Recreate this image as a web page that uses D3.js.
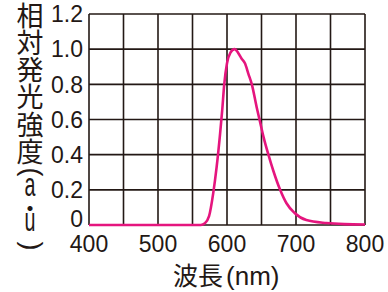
<!DOCTYPE html>
<html>
<head>
<meta charset="utf-8">
<script src="https://d3js.org/d3.v7.min.js"></script>
<style>
  body { margin: 0; background: #fff; }
  svg { display: block; }
  .num { font-family: "Liberation Sans", Arial, sans-serif; font-size: 23px; fill: #231815; }
  .jp { font-family: "Noto Sans CJK JP", sans-serif; fill: #231815; }
</style>
</head>
<body>
<script>
// 波長(nm)と相対発光強度
var wavelength = [400, 562, 568, 574, 580, 585, 590, 593, 596, 600, 605, 611, 616, 621, 626, 631, 636, 643, 648, 653, 660, 667, 677, 686, 698, 715, 744, 770, 800];
var intensity  = [0, 0, 0.01, 0.05, 0.18, 0.33, 0.52, 0.65, 0.80, 0.92, 0.98, 1.0, 0.98, 0.947, 0.92, 0.86, 0.80, 0.67, 0.585, 0.5, 0.40, 0.31, 0.20, 0.125, 0.068, 0.028, 0.011, 0.005, 0.003];
var xTicks = [400, 500, 600, 700, 800];
var xGrid  = [400, 450, 500, 550, 600, 650, 700, 750, 800];
var yTicks = [0, 0.2, 0.4, 0.6, 0.8, 1.0, 1.2];
var yTitle = ["相", "対", "発", "光", "強", "度", "(", "a", "・", "u", ")"];

var width = 388, height = 292;
var svg = d3.select("body").append("svg").attr("width", width).attr("height", height);

var x = d3.scaleLinear().domain([400, 800]).range([89, 365]);
var y = d3.scaleLinear().domain([0, 1.2]).range([225, 14]);

// グリッド
var grid = svg.append("g").attr("stroke", "#231815").attr("stroke-width", 1.6);
grid.selectAll("line.v").data(xGrid).enter().append("line")
  .attr("x1", function(d){ return x(d); }).attr("x2", function(d){ return x(d); })
  .attr("y1", y(0)).attr("y2", y(1.2));
grid.selectAll("line.h").data(yTicks).enter().append("line")
  .attr("y1", function(d){ return y(d); }).attr("y2", function(d){ return y(d); })
  .attr("x1", x(400)).attr("x2", x(800));

// 目盛ラベル
svg.selectAll("text.yt").data(yTicks).enter().append("text")
  .attr("class", "num")
  .attr("text-anchor", "end")
  .attr("x", 83)
  .attr("y", function(d){ return d === 0 ? y(d) - 6 : y(d); })
  .attr("dy", "0.36em")
  .text(function(d){ return d === 0 ? "0" : d.toFixed(1); });

svg.selectAll("text.xt").data(xTicks).enter().append("text")
  .attr("class", "num")
  .attr("text-anchor", "middle")
  .attr("x", function(d){ return x(d); })
  .attr("y", 252)
  .text(function(d){ return d; });

// 軸タイトル(横)
var xt = svg.append("text").attr("class", "jp").attr("x", 173).attr("y", 285).style("font-size", "25px");
xt.append("tspan").text("波長");
xt.append("tspan").attr("dx", 3).style("font-family", "Liberation Sans, Arial, sans-serif").style("font-size", "26px").text("(nm)");

// 軸タイトル(縦書き) 1文字ずつ置く、括弧は90度回す
var cy = 16;
yTitle.forEach(function(c, i){
  if (i > 0) {
    if (c === "(") cy += 20;
    else if (c === "a") cy += 16;
    else if (c === "・") cy += 20;
    else if (c === "u") cy += 15;
    else if (c === ")") cy += 23;
    else cy += 27.2;
  }
  if (c === "(" || c === ")") {
    svg.append("text").attr("class", "num")
      .attr("transform", "translate(30," + cy + ") rotate(90)")
      .attr("text-anchor", "middle").attr("dy", "0.26em")
      .style("font-size", "27px").text(c);
  } else if (c === "a" || c === "u") {
    svg.append("text").attr("class", "num")
      .attr("transform", "translate(30," + cy + ") scale(0.82,1.35)")
      .attr("text-anchor", "middle").attr("dy", "0.26em")
      .style("font-size", "24px").text(c);
  } else {
    svg.append("text").attr("class", "jp").attr("x", 30).attr("y", cy).attr("dy", "0.36em")
      .attr("text-anchor", "middle").style("font-size", (c === "・" ? 24 : 27) + "px").text(c);
  }
});

// スペクトル
var line = d3.line()
  .x(function(d, i){ return x(wavelength[i]); })
  .y(function(d){ return y(d); })
  .curve(d3.curveMonotoneX);
svg.append("path").datum(intensity)
  .attr("fill", "none")
  .attr("stroke", "#e5157e")
  .attr("stroke-width", 2.6)
  .attr("stroke-linejoin", "round")
  .attr("d", line);
</script>
</body>
</html>
